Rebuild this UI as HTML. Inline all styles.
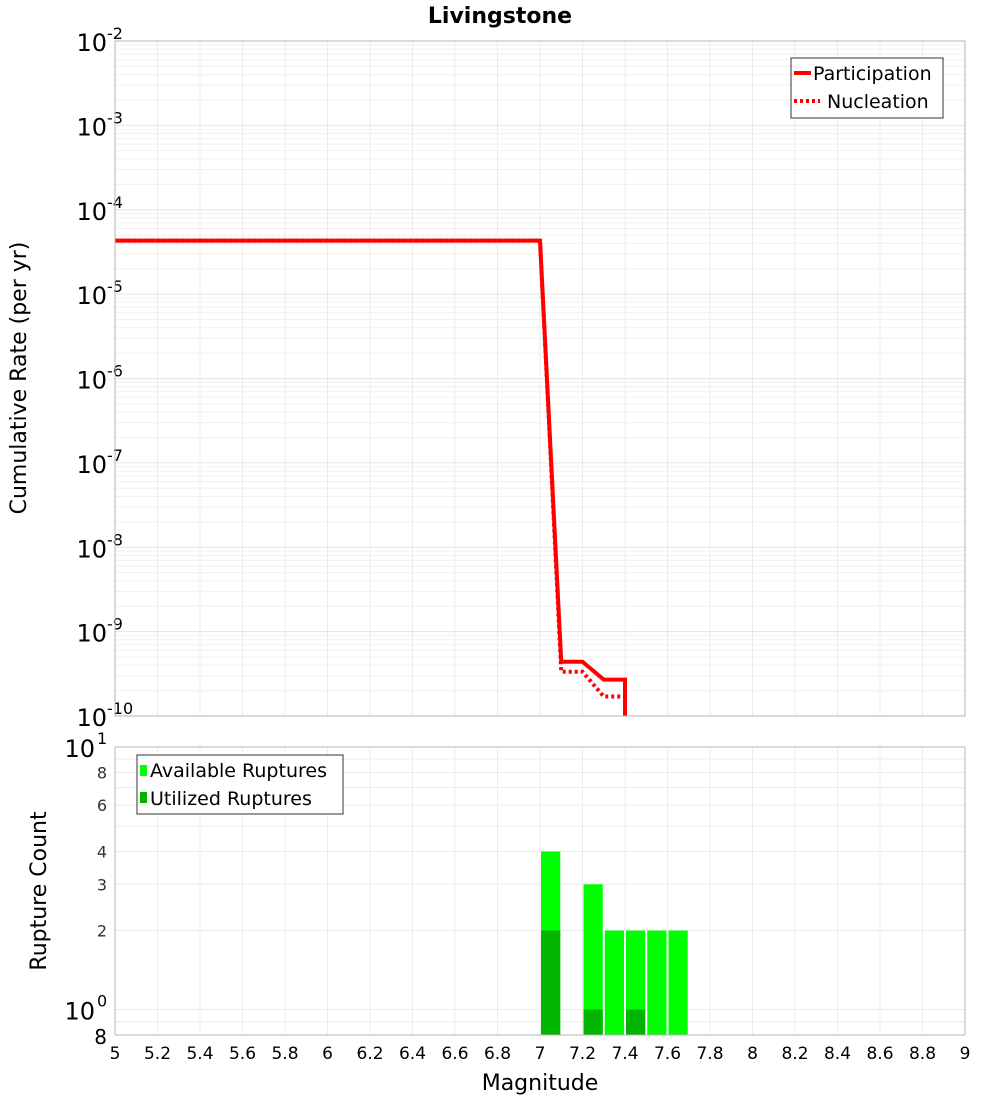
<!DOCTYPE html>
<html><head><meta charset="utf-8"><style>
html,body{margin:0;padding:0;background:#fff;}
svg{display:block;font-family:"DejaVu Sans","Liberation Sans",sans-serif;}
</style></head><body>
<svg id="c" width="1000" height="1100" xmlns="http://www.w3.org/2000/svg">
<text x="500" y="23" text-anchor="middle" font-size="22" font-weight="bold">Livingstone</text>
<g id="topG"></g>
<g id="botG"></g>
<text transform="translate(26,378) rotate(-90)" text-anchor="middle" font-size="22">Cumulative Rate (per yr)</text>
<text transform="translate(46,891) rotate(-90)" text-anchor="middle" font-size="22">Rupture Count</text>
<text x="540" y="1090" text-anchor="middle" font-size="22">Magnitude</text>
</svg>
<script>
const partMags=[5,7.0,7.1,7.2,7.3,7.4,7.4];
const partRates=[4.3e-5,4.3e-5,4.4e-10,4.4e-10,2.7e-10,2.7e-10,1e-10];
const nuclMags=[5,7.0,7.1,7.2,7.3,7.4,7.4];
const nuclRates=[4.3e-5,4.3e-5,3.35e-10,3.35e-10,1.7e-10,1.7e-10,1e-10];
const binStarts=[7.0,7.2,7.3,7.4,7.5,7.6];
const available=[4,3,2,2,2,2];
const utilized=[2,1,0,1,0,0];
const xTicks=[5,5.2,5.4,5.6,5.8,6,6.2,6.4,6.6,6.8,7,7.2,7.4,7.6,7.8,8,8.2,8.4,8.6,8.8,9];
const countTicks=[2,3,4,6,8];

const NS="http://www.w3.org/2000/svg";
const L=115,R=965,T1=41,B1=716,T2=747,B2=1035;
const xs=m=>L+(m-5)/4*(R-L);
const y1=v=>T1+(-2-Math.log10(v))*(B1-T1)/8;
const lo=Math.log10(0.8);
const y2=v=>T2+(1-Math.log10(v))*(B2-T2)/(1-lo);
function el(p,t,a){const e=document.createElementNS(NS,t);for(const k in a)e.setAttribute(k,a[k]);p.appendChild(e);return e;}
const topG=document.getElementById('topG'),botG=document.getElementById('botG');
el(topG,'rect',{x:L,y:T1,width:R-L,height:B1-T1,fill:'#fff'});
el(botG,'rect',{x:L,y:T2,width:R-L,height:B2-T2,fill:'#fff'});
for(let i=0;i<=20;i++){
  const m=5+i*0.2;
  el(topG,'line',{x1:xs(m),x2:xs(m),y1:T1,y2:B1,stroke:'#ececec'});
  el(botG,'line',{x1:xs(m),x2:xs(m),y1:T2,y2:B2,stroke:'#ececec'});
}
for(let d=-10;d<-2;d++)for(let k=1;k<10;k++){
  const yy=y1(k*Math.pow(10,d));
  el(topG,'line',{x1:L,x2:R,y1:yy,y2:yy,stroke:k==1?'#e4e4e4':'#f0f0f0'});
}
for(let k of [0.8,0.9,1,2,3,4,5,6,7,8,9]){
  el(botG,'line',{x1:L,x2:R,y1:y2(k),y2:y2(k),stroke:'#ececec'});
}
for(let d=-10;d<=-2;d++){
  const yy=y1(Math.pow(10,d));
  const t=el(topG,'text',{x:107,y:yy+10,'text-anchor':'end','font-size':24});
  
  
  t.textContent='10';
  const s=el(topG,'text',{x:107,y:yy-2,'font-size':16});
  s.textContent=String(d);
}
for(const v of countTicks){
  const t=el(botG,'text',{x:107,y:y2(v)+6,'text-anchor':'end','font-size':16,fill:'#333'});
  
  
  t.textContent=v;
}
[['10','1',T2+10],['10','0',y2(1)+10]].forEach(a=>{
  const t=el(botG,'text',{x:95,y:a[2],'text-anchor':'end','font-size':24});t.textContent=a[0];
  const s=el(botG,'text',{x:97,y:a[2]-13,'font-size':16});s.textContent=a[1];
});
const t8=el(botG,'text',{x:107,y:B2+9,'text-anchor':'end','font-size':20});t8.textContent='8';
binStarts.forEach((b,i)=>{
  const r=el(botG,'rect',{x:xs(b)+1,y:y2(available[i]),width:xs(b+0.1)-xs(b)-2,height:B2-y2(available[i]),fill:'#00ff00'});
  
  
  if(utilized[i]>0){
    const u=el(botG,'rect',{x:xs(b)+1,y:y2(utilized[i]),width:xs(b+0.1)-xs(b)-2,height:B2-y2(utilized[i]),fill:'#00b400'});
    
    
  }
});
const pts=(ms,rs)=>ms.map((m,i)=>xs(m)+','+Math.min(y1(rs[i]),B1)).join(' ');
const n=el(topG,'polyline',{points:pts(nuclMags,nuclRates),fill:'none',stroke:'#ff0000','stroke-width':4,'stroke-dasharray':'3,3'});


const p=el(topG,'polyline',{points:pts(partMags,partRates),fill:'none',stroke:'#ff0000','stroke-width':4});


el(topG,'rect',{x:L,y:T1,width:R-L,height:B1-T1,fill:'none',stroke:'#b4b4b4'});
el(botG,'rect',{x:L,y:T2,width:R-L,height:B2-T2,fill:'none',stroke:'#b4b4b4'});
for(const m of xTicks){
  const t=el(botG,'text',{x:xs(m),y:1059,'text-anchor':'middle','font-size':17});
  
  
  t.textContent=m;
}
const lg=el(topG,'g',{});


el(lg,'rect',{x:791,y:58,width:152,height:60,fill:'#fff',stroke:'#333'});
el(lg,'line',{x1:794,x2:811,y1:73,y2:73,stroke:'#f00','stroke-width':4});
el(lg,'line',{x1:794,x2:820,y1:101,y2:101,stroke:'#f00','stroke-width':4,'stroke-dasharray':'3,3'});
let tt=el(lg,'text',{x:813,y:80,'font-size':19});tt.textContent='Participation';
tt=el(lg,'text',{x:827,y:108,'font-size':19});tt.textContent='Nucleation';
const lg2=el(botG,'g',{});


el(lg2,'rect',{x:137,y:755,width:206,height:59,fill:'#fff',stroke:'#333'});
el(lg2,'rect',{x:140,y:765,width:7,height:11,fill:'#00ff00'});
el(lg2,'rect',{x:140,y:792,width:7,height:11,fill:'#00b400'});
tt=el(lg2,'text',{x:150,y:777,'font-size':19});tt.textContent='Available Ruptures';
tt=el(lg2,'text',{x:150,y:805,'font-size':19});tt.textContent='Utilized Ruptures';
</script>
</body></html>
